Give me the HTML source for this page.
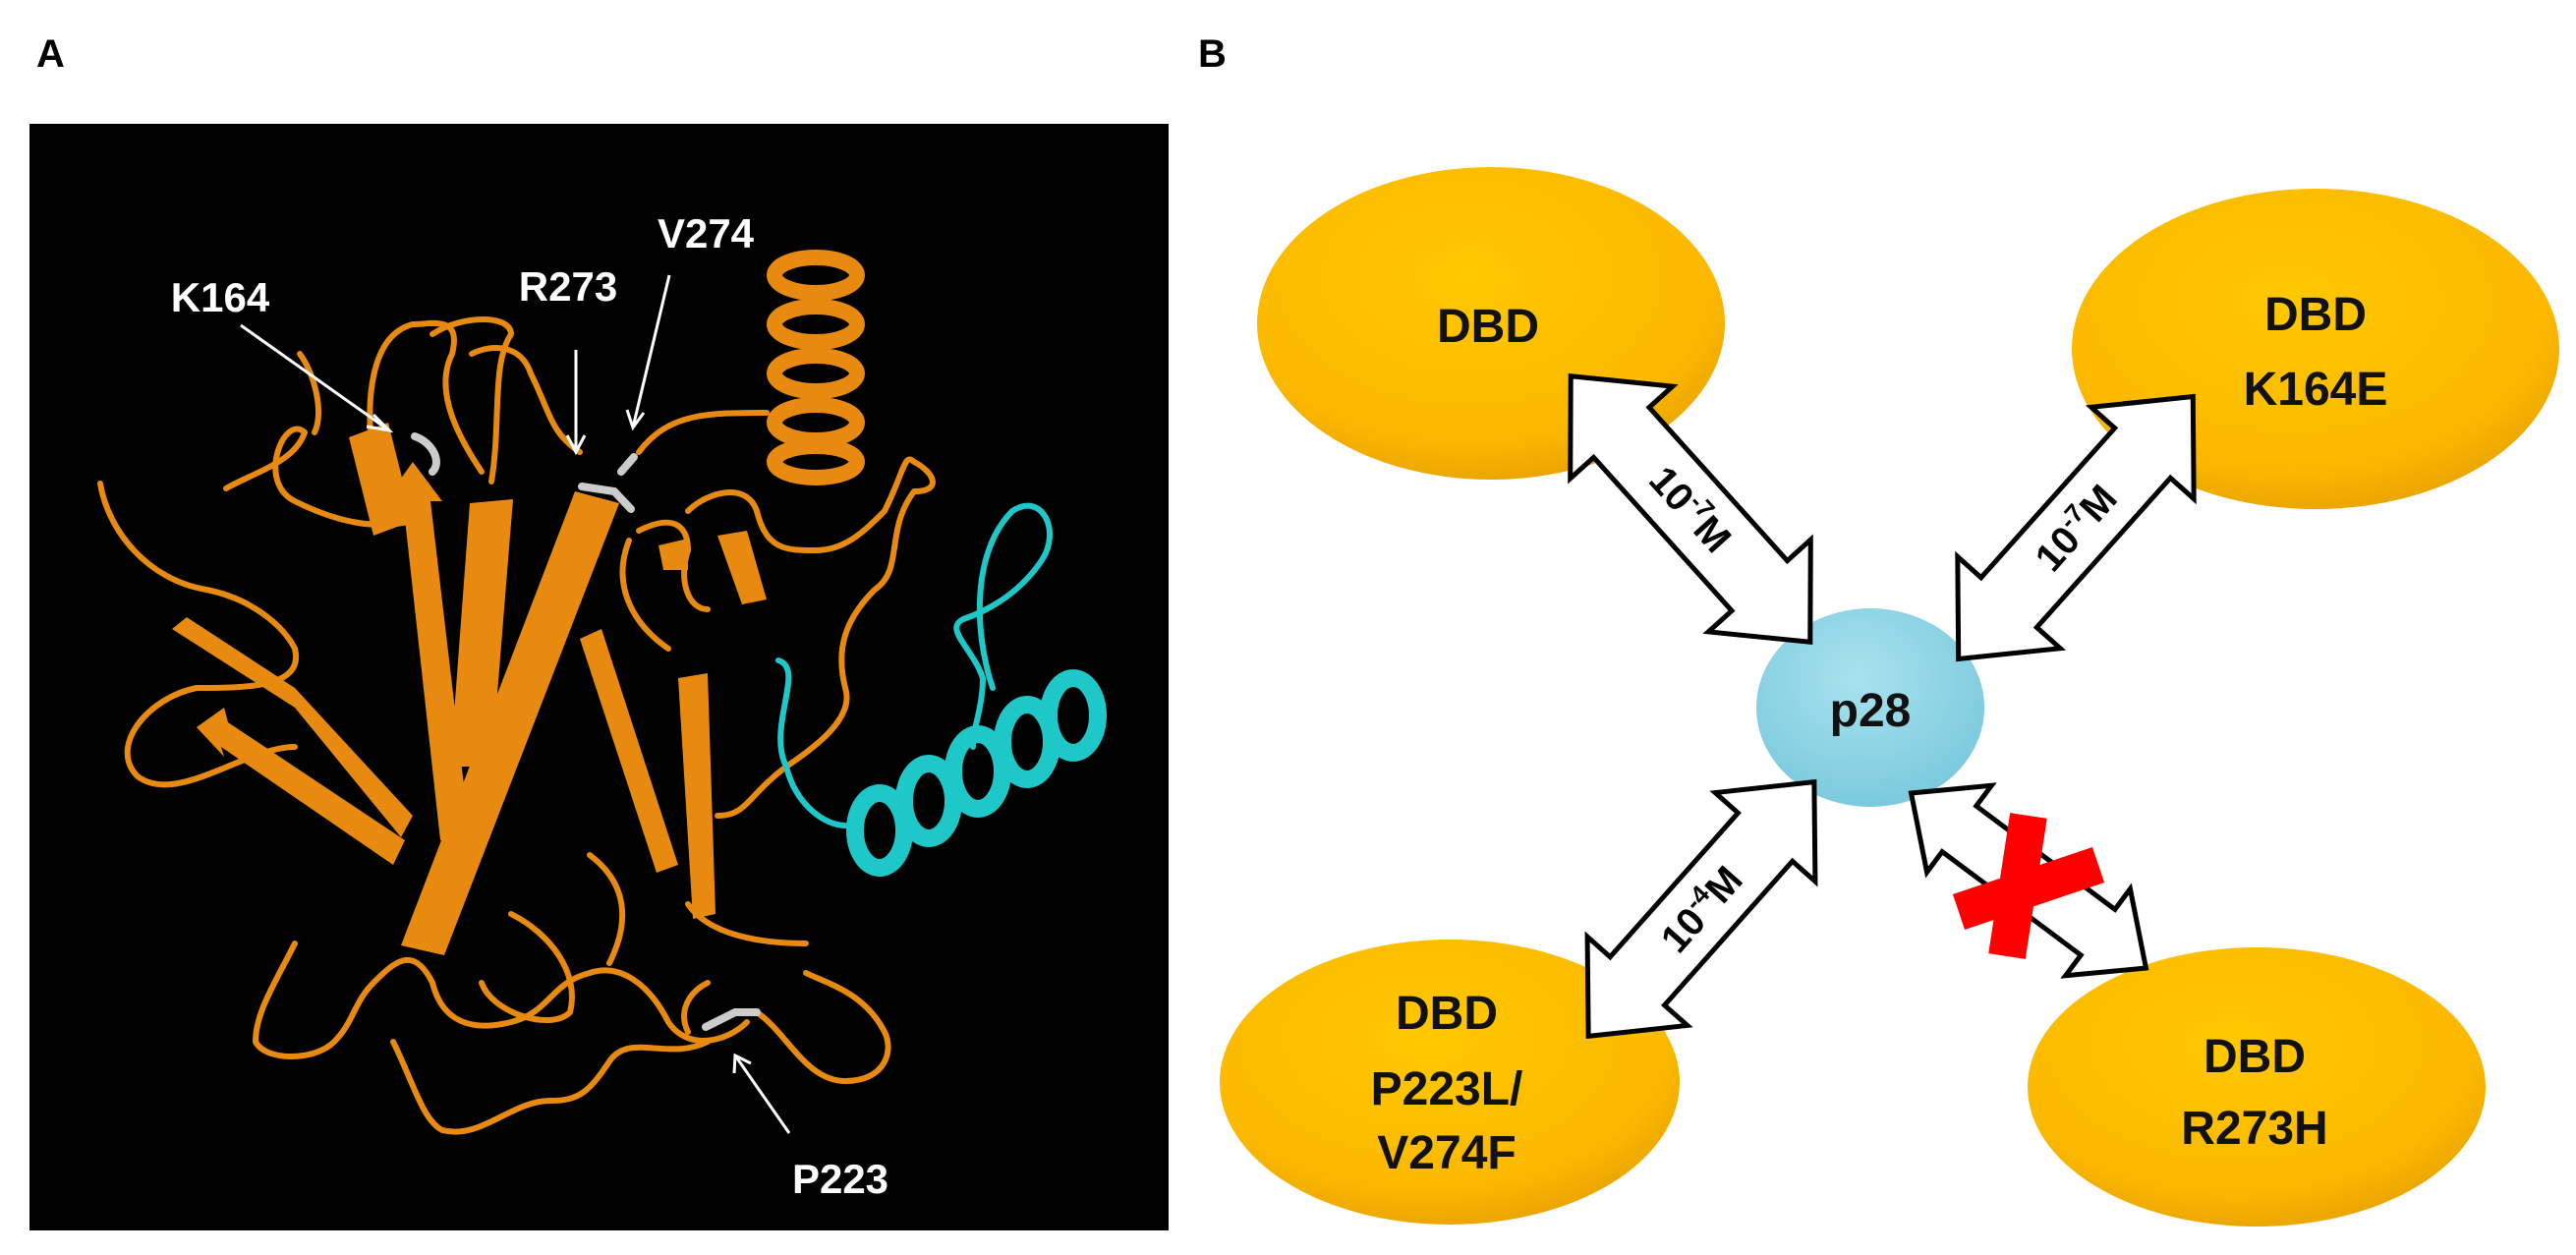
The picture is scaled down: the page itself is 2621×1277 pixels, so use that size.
<!DOCTYPE html>
<html><head><meta charset="utf-8"><style>
html,body{margin:0;padding:0;background:#fff;}
svg{display:block;}
text{font-family:"Liberation Sans",sans-serif;font-weight:bold;}
</style></head><body>
<svg width="2621" height="1277" viewBox="0 0 2621 1277" xmlns="http://www.w3.org/2000/svg">
<defs>
<radialGradient id="gy" cx="45%" cy="35%" r="70%"><stop offset="0" stop-color="#ffc800"/><stop offset="0.75" stop-color="#fbb800"/><stop offset="1" stop-color="#e5a000"/></radialGradient>
<radialGradient id="gb" cx="45%" cy="35%" r="70%"><stop offset="0" stop-color="#a8e2ee"/><stop offset="1" stop-color="#78c8dc"/></radialGradient>
</defs>
<text x="37" y="68" font-size="40" fill="#000">A</text>
<text x="1219" y="68" font-size="40" fill="#000">B</text>

<rect x="30" y="126" width="1159" height="1126" fill="#000"/>
<g fill="none" stroke="#e88a10" stroke-width="6" stroke-linecap="round" stroke-linejoin="round">
<path d="M102 492 C110 540 150 590 210 600 C260 610 290 640 300 660 C310 700 250 700 200 700 C150 710 110 760 140 790 C180 820 250 760 300 760"/>
<path d="M230 497 C260 480 300 470 310 440 C290 420 260 490 300 510 C340 530 380 540 420 530"/>
<path d="M305 360 C320 380 330 420 320 440"/>
<path d="M380 470 C370 400 380 340 420 330 C440 330 470 320 460 360 C440 400 470 450 490 480"/>
<path d="M440 340 C470 320 520 320 520 340 C500 370 510 430 500 490"/>
<path d="M480 360 C500 350 530 350 540 380 C560 420 560 440 590 460"/>
<path d="M650 460 C680 420 720 420 780 420"/>
<path d="M650 540 C690 520 700 540 700 560 C690 590 700 620 720 620"/>
<path d="M700 520 C720 500 760 490 770 520 C780 560 800 560 830 560 C860 560 880 540 900 520 C920 480 920 460 930 470 C950 480 960 500 930 500 C900 540 920 580 890 600 C860 630 850 660 860 700 C870 730 830 760 800 780 C760 810 760 830 730 830"/>
<path d="M640 550 C620 600 650 640 680 660"/>
<path d="M300 960 C280 1000 260 1030 260 1060 C270 1080 320 1080 340 1060 C360 1040 360 1020 380 1000 C400 980 420 960 440 1000 C450 1040 480 1050 520 1040 C560 1030 560 1000 600 990 C630 980 660 1000 680 1040 C700 1070 740 1060 760 1040"/>
<path d="M400 1060 C420 1100 430 1140 450 1150 C490 1160 520 1120 560 1120 C590 1120 600 1110 620 1080 C640 1050 680 1080 720 1060"/>
<path d="M770 1030 C800 1050 820 1100 860 1100 C900 1100 910 1070 900 1050 C880 1010 840 1000 820 990"/>
<path d="M520 930 C560 950 590 990 580 1030 C560 1050 500 1030 490 1000"/>
<path d="M700 920 C720 950 770 960 820 960"/>
<path d="M600 870 C640 900 640 940 620 980"/>
<path d="M720 1000 C700 1010 690 1030 700 1050"/>
</g>
<g fill="#e88a10">
<polygon points="585,500 630,512 452,972 408,962"/>
<polygon points="478,512 522,508 500,780 458,780"/>
<polygon points="395,505 420,470 450,510 438,510 478,850 448,855 410,510"/>
<polygon points="175,640 190,628 300,700 420,830 408,852 300,720"/>
<polygon points="200,740 228,720 232,735 412,855 400,880 225,760 228,770"/>
<polygon points="590,650 612,640 690,880 668,888"/>
<polygon points="690,690 720,685 728,930 705,935"/>
<polygon points="355,445 395,430 420,530 380,545"/>
<polygon points="730,545 760,540 780,610 755,615"/>
<polygon points="670,555 700,548 700,580 675,580"/>
</g>
<g fill="none" stroke="#e88a10" stroke-width="16">
<ellipse cx="830" cy="280" rx="42" ry="18"/><ellipse cx="830" cy="330" rx="42" ry="18"/><ellipse cx="830" cy="380" rx="42" ry="18"/><ellipse cx="830" cy="430" rx="42" ry="18"/><ellipse cx="830" cy="470" rx="42" ry="16"/>
</g>
<g fill="none" stroke="#1ec8c8" stroke-width="6" stroke-linecap="round">
<path d="M1010 700 C990 640 990 560 1030 520 C1060 500 1080 540 1060 570 C1040 600 1010 620 980 630 C960 640 990 660 1000 690 C1000 720 990 740 990 760"/>
<path d="M792 672 C820 680 780 740 800 780 C810 820 840 840 860 840"/>
</g>
<g fill="none" stroke="#1ec8c8" stroke-width="18">
<ellipse cx="895" cy="845" rx="25" ry="38"/><ellipse cx="945" cy="815" rx="25" ry="38"/><ellipse cx="995" cy="785" rx="25" ry="38"/><ellipse cx="1045" cy="755" rx="25" ry="38"/><ellipse cx="1092" cy="728" rx="25" ry="38"/>
</g>
<g stroke="#ccc" stroke-width="8" fill="none" stroke-linecap="round"><path d="M422 444 C440 450 450 470 440 480"/><path d="M592 495 L625 500 L642 518"/><path d="M632 480 L645 465"/><path d="M718 1045 L748 1030 L770 1030"/></g>
<g stroke="#fff" stroke-width="3" fill="none">
<line x1="245" y1="331" x2="396" y2="438"/><polyline points="380,422 396,438 373,434"/>
<line x1="586" y1="356" x2="586" y2="460"/><polyline points="577,443 586,460 595,443"/>
<line x1="681" y1="280" x2="644" y2="435"/><polyline points="638,417 644,435 655,420"/>
<line x1="803" y1="1153" x2="748" y2="1074"/><polyline points="747,1092 748,1074 764,1082"/>
</g>
<g fill="#fff" font-size="42" text-anchor="middle">
<text x="224" y="317">K164</text>
<text x="578" y="306">R273</text>
<text x="718" y="252">V274</text>
<text x="855" y="1214">P223</text>
</g>

<g stroke="none">
<ellipse cx="1517" cy="329" rx="238" ry="159" fill="url(#gy)"/>
<ellipse cx="2356" cy="355" rx="248" ry="163" fill="url(#gy)"/>
<ellipse cx="1475" cy="1101" rx="234" ry="145" fill="url(#gy)"/>
<ellipse cx="2296" cy="1106" rx="233" ry="142" fill="url(#gy)"/>
<ellipse cx="1903" cy="720" rx="116" ry="101" fill="url(#gb)"/>
</g>
<g fill="#fff" stroke="#000" stroke-width="5" stroke-linejoin="miter">
<g transform="translate(1720,518) rotate(48)"><polygon points="-182,0 -105,-70 -105,-38 105,-38 105,-70 182,0 105,70 105,38 -105,38 -105,70"/></g>
<g transform="translate(2112,537) rotate(-48.2)"><polygon points="-179,0 -102,-70 -102,-38 102,-38 102,-70 179,0 102,70 102,38 -102,38 -102,70"/></g>
<g transform="translate(1731,925) rotate(-48.4)"><polygon points="-173,0 -98,-68 -98,-37 98,-37 98,-68 173,0 98,68 98,37 -98,37 -98,68"/></g>
<g transform="translate(2064,896) rotate(36.7)"><polygon points="-149,0 -88,-55 -88,-29 88,-29 88,-55 149,0 88,55 88,29 -88,29 -88,55"/></g>
</g>
<g font-size="40" fill="#000" text-anchor="middle">
<text transform="translate(1720,518) rotate(48)" y="14">10<tspan font-size="26" dy="-16">-7</tspan><tspan dy="16">M</tspan></text>
<text transform="translate(2112,537) rotate(-48.2)" y="14">10<tspan font-size="26" dy="-16">-7</tspan><tspan dy="16">M</tspan></text>
<text transform="translate(1731,925) rotate(-48.4)" y="14">10<tspan font-size="26" dy="-16">-4</tspan><tspan dy="16">M</tspan></text>
</g>
<g stroke="#ff0000" stroke-width="38"><line x1="2064" y1="830" x2="2042" y2="973"/><line x1="1993" y1="928" x2="2135" y2="880"/></g>
<g font-size="48" fill="#111" text-anchor="middle">
<text x="1514" y="348">DBD</text>
<text x="2356" y="336">DBD</text><text x="2356" y="412">K164E</text>
<text x="1472" y="1047">DBD</text><text x="1472" y="1124">P223L/</text><text x="1472" y="1189">V274F</text>
<text x="2294" y="1091">DBD</text><text x="2294" y="1164">R273H</text>
<text x="1903" y="739">p28</text>
</g>
</svg>
</body></html>
